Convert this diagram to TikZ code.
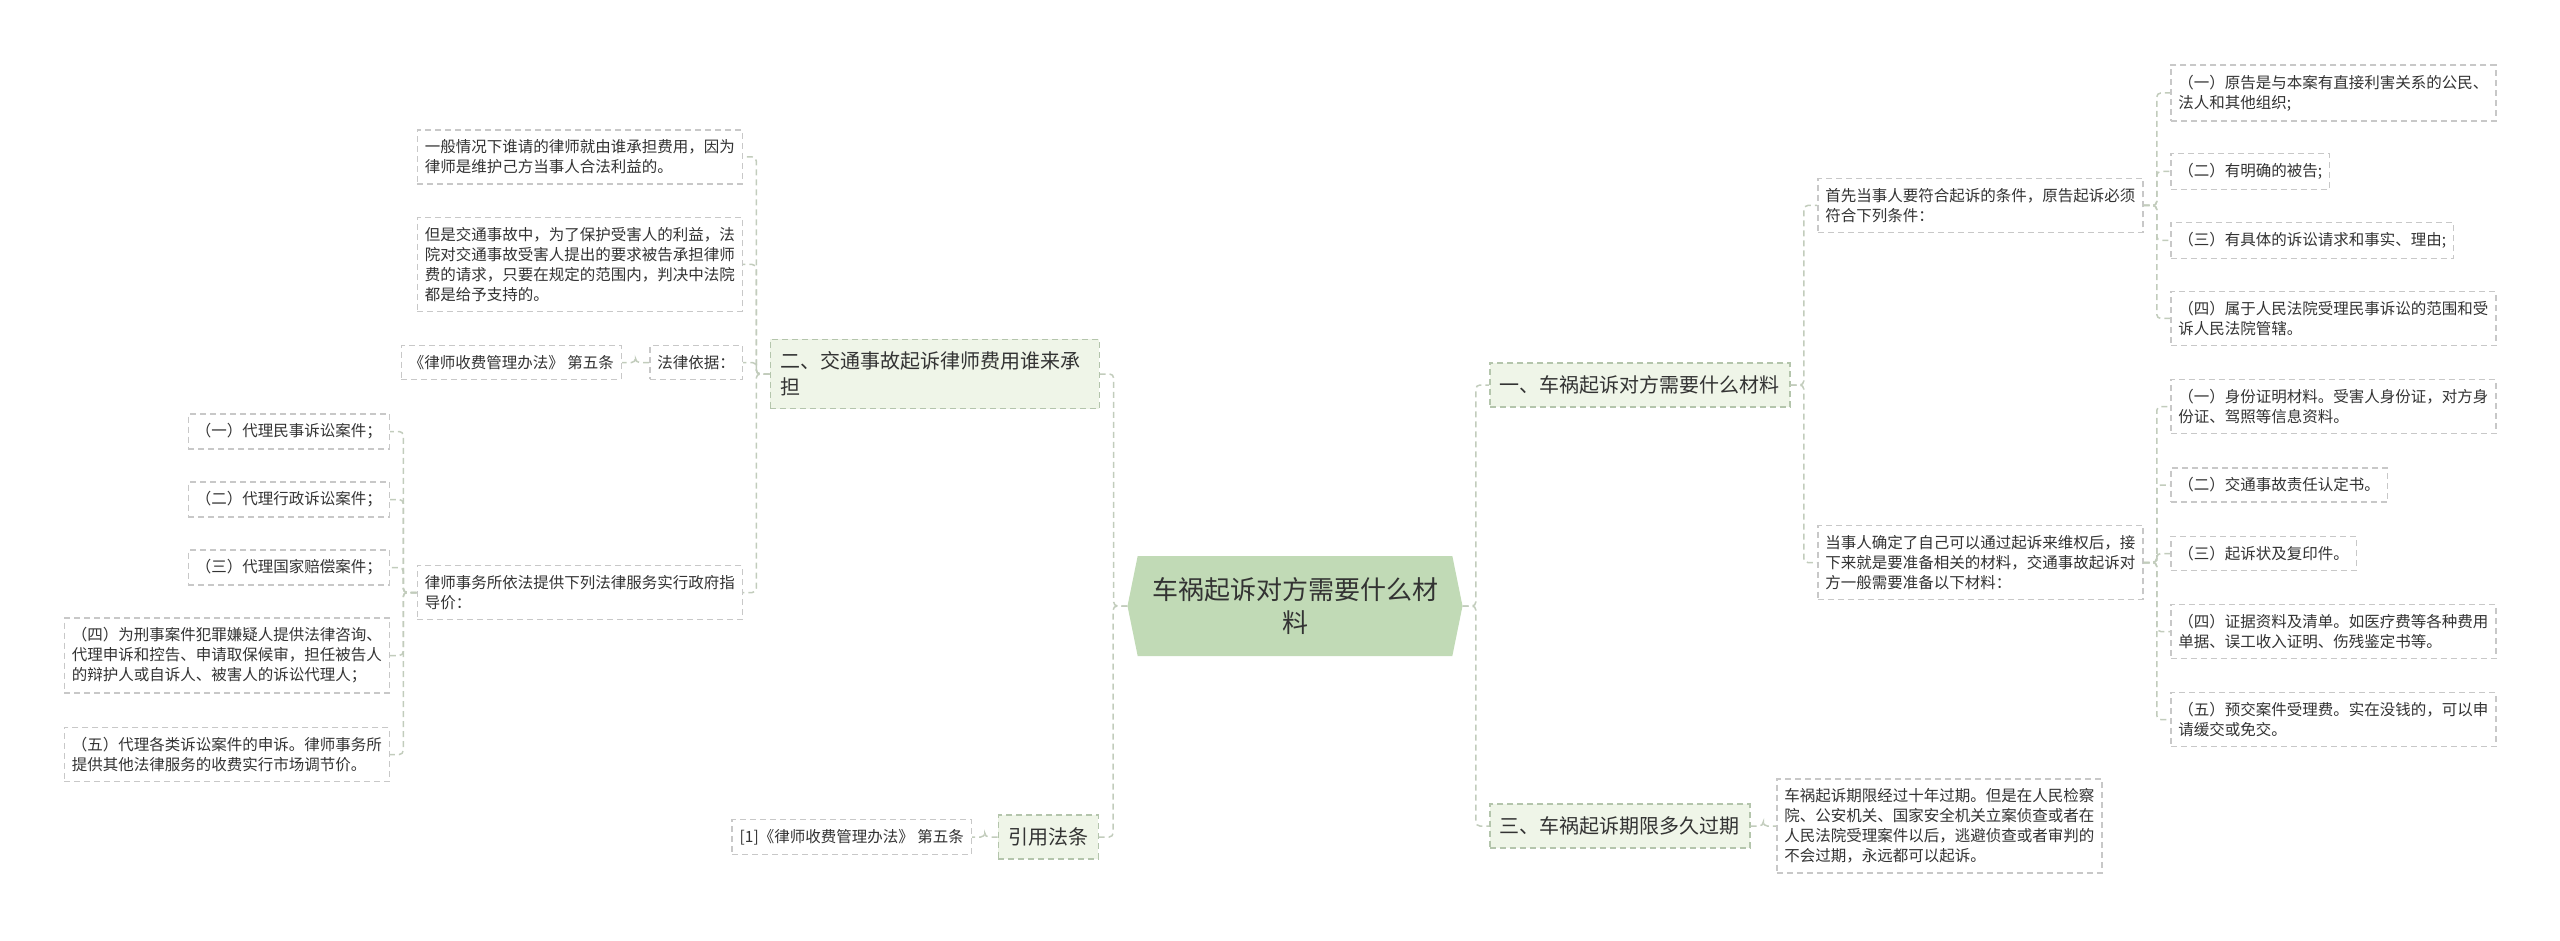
\documentclass[tikz,border=0pt]{standalone}
\usepackage{fontspec}
\newfontfamily\cjk{Noto Sans CJK SC}
\usetikzlibrary{calc,shapes.symbols}
\definecolor{txt}{HTML}{333333}
\definecolor{rootfill}{HTML}{C1DAB6}
\definecolor{topicfill}{HTML}{EFF5E8}
\definecolor{topicline}{HTML}{B4C5AC}
\definecolor{leafline}{HTML}{C8C8C8}
\definecolor{linkline}{HTML}{C2CCBC}

\begin{document}
\begin{tikzpicture}[x=1pt,y=-1pt
	,every node/.style={text=txt,align=left}
	,root/.style={shape=signal,signal to=west and east,signal pointer angle=157
	  ,fill=rootfill,minimum width=335,minimum height=100,inner sep=0,align=center
	  ,font=\cjk\fontsize{26}{33}\selectfont}
	,topic/.style={draw=topicline,fill=topicfill,dash pattern=on 6pt off 4pt,line width=1.5pt
	  ,inner xsep=10,inner ysep=12.5,font=\cjk\fontsize{20}{26}\selectfont}
	,leaf/.style={draw=leafline,fill=white,dash pattern=on 6pt off 4pt,line width=1.5pt
	  ,inner xsep=7.5,inner ysep=9.75,font=\cjk\fontsize{15.5}{20}\selectfont}
	,link/.style={draw=linkline,dash pattern=on 6pt off 4pt,line width=1.5pt,rounded corners=4pt
	  ,to path={-| ($(\tikztostart)!.5!(\tikztotarget)$) |- (\tikztotarget)}}
	]
  \useasboundingbox (0,0) rectangle (2560,941);

  % centre
  \node[root] (root) at (1295,606) {车祸起诉对方需要什么材\\料};

  % right: topics
  \node[topic,anchor=west] (top1) at (1489,385) {一、车祸起诉对方需要什么材料};
  \node[topic,anchor=west] (top3) at (1489,826) {三、车祸起诉期限多久过期};
  % right: conditions and materials
  \node[leaf,anchor=west] (cond) at (1817,205.5) {首先当事人要符合起诉的条件，原告起诉必须\\符合下列条件：};
  \node[leaf,anchor=west] (mat)  at (1817,562.5) {当事人确定了自己可以通过起诉来维权后，接\\下来就是要准备相关的材料，交通事故起诉对\\方一般需要准备以下材料：};
  \node[leaf,anchor=west] (c1) at (2170,93)    {（一）原告是与本案有直接利害关系的公民、\\法人和其他组织;};
  \node[leaf,anchor=west] (c2) at (2170,171.5) {（二）有明确的被告;};
  \node[leaf,anchor=west] (c3) at (2170,240.5) {（三）有具体的诉讼请求和事实、理由;};
  \node[leaf,anchor=west] (c4) at (2170,318.5) {（四）属于人民法院受理民事诉讼的范围和受\\诉人民法院管辖。};
  \node[leaf,anchor=west] (m1) at (2170,406.5) {（一）身份证明材料。受害人身份证，对方身\\份证、驾照等信息资料。};
  \node[leaf,anchor=west] (m2) at (2170,485)   {（二）交通事故责任认定书。};
  \node[leaf,anchor=west] (m3) at (2170,553.5) {（三）起诉状及复印件。};
  \node[leaf,anchor=west] (m4) at (2170,631.5) {（四）证据资料及清单。如医疗费等各种费用\\单据、误工收入证明、伤残鉴定书等。};
  \node[leaf,anchor=west] (m5) at (2170,719.5) {（五）预交案件受理费。实在没钱的，可以申\\请缓交或免交。};
  \node[leaf,anchor=west] (term) at (1776,826) {车祸起诉期限经过十年过期。但是在人民检察\\院、公安机关、国家安全机关立案侦查或者在\\人民法院受理案件以后，逃避侦查或者审判的\\不会过期，永远都可以起诉。};

  % left: topics
  \node[topic,anchor=east,text width=309] (top2) at (1100,374) {二、交通事故起诉律师费用谁来承\\担};
  \node[topic,anchor=east] (top4) at (1099,837) {引用法条};
  % left: fees
  \node[leaf,anchor=east] (fee1) at (743,157)   {一般情况下谁请的律师就由谁承担费用，因为\\律师是维护己方当事人合法利益的。};
  \node[leaf,anchor=east] (fee2) at (743,264.5) {但是交通事故中，为了保护受害人的利益，法\\院对交通事故受害人提出的要求被告承担律师\\费的请求，只要在规定的范围内，判决中法院\\都是给予支持的。};
  \node[leaf,anchor=east] (basis) at (743,362.5) {法律依据：};
  \node[leaf,anchor=east] (law)   at (622,362.5) {《律师收费管理办法》 第五条};
  \node[leaf,anchor=east] (fee3) at (743,592.5) {律师事务所依法提供下列法律服务实行政府指\\导价：};
  \node[leaf,anchor=east] (s1) at (390,431.5) {（一）代理民事诉讼案件；};
  \node[leaf,anchor=east] (s2) at (390,499.5) {（二）代理行政诉讼案件；};
  \node[leaf,anchor=east] (s3) at (390,567.5) {（三）代理国家赔偿案件；};
  \node[leaf,anchor=east] (s4) at (390,655.5) {（四）为刑事案件犯罪嫌疑人提供法律咨询、\\代理申诉和控告、申请取保候审，担任被告人\\的辩护人或自诉人、被害人的诉讼代理人；};
  \node[leaf,anchor=east] (s5) at (390,754.5) {（五）代理各类诉讼案件的申诉。律师事务所\\提供其他法律服务的收费实行市场调节价。};
  \node[leaf,anchor=east] (ref) at (972,837) {[1]《律师收费管理办法》 第五条};

  % right links
  \path [link] (root.east) edge (top1.west);
  \path [link] (root.east) edge (top3.west);
  \path [link] (top1.east) edge (cond.west);
  \path [link] (top1.east) edge (mat.west);
  \path [link] (cond.east) edge (c1.west);
  \path [link] (cond.east) edge (c2.west);
  \path [link] (cond.east) edge (c3.west);
  \path [link] (cond.east) edge (c4.west);
  \path [link] (mat.east)  edge (m1.west);
  \path [link] (mat.east)  edge (m2.west);
  \path [link] (mat.east)  edge (m3.west);
  \path [link] (mat.east)  edge (m4.west);
  \path [link] (mat.east)  edge (m5.west);
  \path [link] (top3.east) edge (term.west);
  % left links
  \path [link] (root.west) edge (top2.east);
  \path [link] (root.west) edge (top4.east);
  \path [link] (top2.west) edge (fee1.east);
  \path [link] (top2.west) edge (fee2.east);
  \path [link] (top2.west) edge (basis.east);
  \path [link] (top2.west) edge (fee3.east);
  \path [link] (basis.west) edge (law.east);
  \path [link] (fee3.west) edge (s1.east);
  \path [link] (fee3.west) edge (s2.east);
  \path [link] (fee3.west) edge (s3.east);
  \path [link] (fee3.west) edge (s4.east);
  \path [link] (fee3.west) edge (s5.east);
  \path [link] (top4.west) edge (ref.east);
\end{tikzpicture}
\end{document}
